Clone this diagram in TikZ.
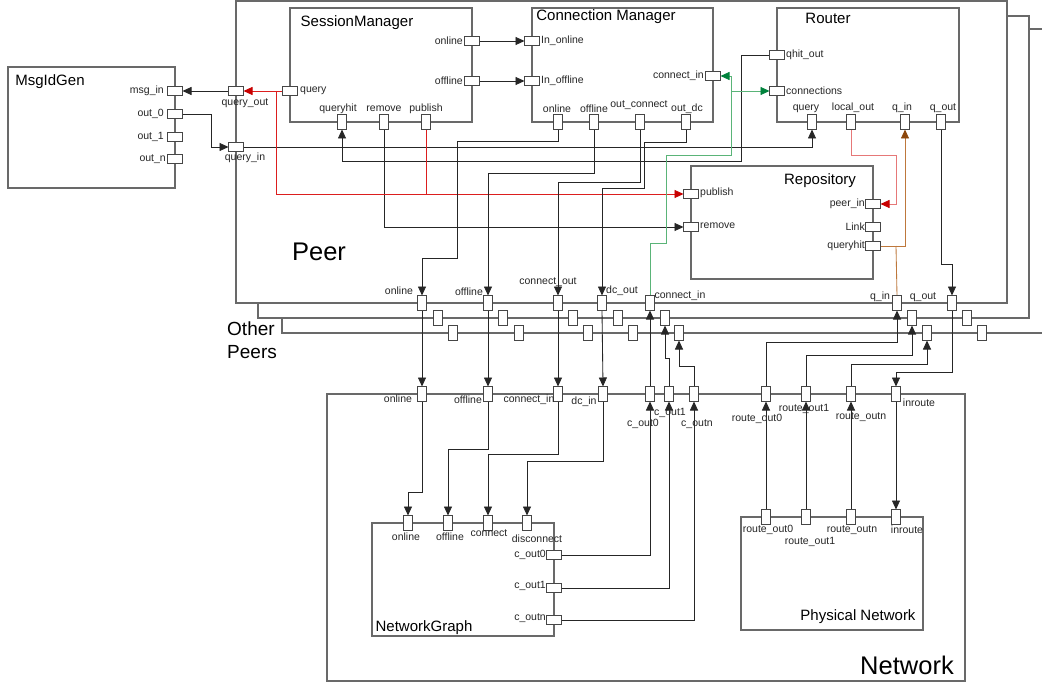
\documentclass[tikz,border=0pt]{standalone}
\usepackage{fontspec}
\setmainfont{Liberation Sans}
\usetikzlibrary{arrows.meta}
\definecolor{boxc}{RGB}{105,105,105}
\definecolor{portc}{RGB}{70,70,70}
\definecolor{redl}{RGB}{220,30,30}
\definecolor{redh}{RGB}{200,0,0}
\definecolor{pinkl}{RGB}{230,120,120}
\definecolor{greenl}{RGB}{90,180,120}
\definecolor{greenh}{RGB}{0,130,60}
\definecolor{brownl}{RGB}{190,120,60}
\definecolor{brownh}{RGB}{140,70,10}
\begin{document}
\begin{tikzpicture}[x=1pt,y=-1pt,
  blk/.style={draw=boxc,line width=1.2pt,fill=white,inner sep=0pt,outer sep=0pt,anchor=north west},
  hp/.style={draw=portc,fill=white,line width=0.9pt,minimum width=15pt,minimum height=9pt,inner sep=0pt,outer sep=0pt},
  vp/.style={draw=portc,fill=white,line width=0.9pt,minimum width=9pt,minimum height=15pt,inner sep=0pt,outer sep=0pt},
  lbl/.style={font=\fontsize{10.5}{12}\selectfont,inner sep=0pt,text=black!85},
  ttl/.style={font=\fontsize{15}{18}\selectfont,inner sep=0pt},
  big/.style={font=\fontsize{25.5}{30}\selectfont,inner sep=0pt},
  con/.style={draw=black!85,line width=0.85pt},
  tip/.style={-{Triangle[length=9pt,width=8pt,#1]}},
  arr/.style={con,tip={}},
  redarr/.style={draw=redl,line width=0.85pt,tip={color=redh}},
  pinkarr/.style={draw=pinkl,line width=0.85pt,tip={color=redh}},
  grnarr/.style={draw=greenl,line width=0.85pt,tip={color=greenh}},
  brnarr/.style={draw=brownl,line width=0.85pt,tip={color=brownh}},
]
\clip (0,0) rectangle (1042,682);
\fill[white] (0,0) rectangle (1042,682);

% ---------- boxes ----------
\node[blk,minimum width=167pt,minimum height=121pt] (msg) at (8,67) {};
\node[blk,minimum width=800pt,minimum height=304pt] (box3) at (282,29) {};
\node[blk,minimum width=771pt,minimum height=302pt] (box2) at (258,16) {};
\node[blk,minimum width=771pt,minimum height=302pt] (peer) at (236,1) {};
\node[blk,minimum width=182pt,minimum height=114pt] (sm) at (290,8) {};
\node[blk,minimum width=181pt,minimum height=114pt] (cm) at (532,8) {};
\node[blk,minimum width=182pt,minimum height=114pt] (rt) at (777,8) {};
\node[blk,minimum width=182pt,minimum height=113pt] (repo) at (691,166) {};
\node[blk,minimum width=638pt,minimum height=287pt] (net) at (327,394) {};
\node[blk,minimum width=182pt,minimum height=113pt] (ng) at (372,523) {};
\node[blk,minimum width=182pt,minimum height=113pt] (phy) at (741,517) {};

% ---------- titles ----------
\node[ttl] (tmsg) at (50,82) {MsgIdGen};
\node[ttl] (tsm) at (357,23) {SessionManager};
\node[ttl] (tcm) at (606,17) {Connection Manager};
\node[ttl] (trt) at (828,18) {Router};
\node[ttl] (trepo) at (820,181) {Repository};
\node[ttl] (tng) at (424,628) {NetworkGraph};
\node[ttl] (tphy) at (858,617) {Physical Network};
\node[big] (tpeer) at (319,252) {Peer};
\node[big] (tnet) at (907,665) {Network};
\node[font=\fontsize{19}{22}\selectfont,inner sep=0pt,anchor=west] (tother) at (227,329) {Other};
\node[font=\fontsize{19}{22}\selectfont,inner sep=0pt,anchor=west] (tpeers) at (227,352) {Peers};

\coordinate (c276) at (276,91);

% ---------- ports ----------
\node[hp] (msgin) at (175,91) {};
\node[hp] (out0) at (175,114) {};
\node[hp] (out1) at (175,137) {};
\node[hp] (outn) at (175,159) {};
\node[hp] (pqo) at (236,91) {};
\node[hp] (pqi) at (236,147) {};
\node[hp] (smq) at (290,91) {};
\node[hp] (smon) at (472,41) {};
\node[hp] (smoff) at (472,81) {};
\node[vp] (smqh) at (342,122) {};
\node[vp] (smrm) at (384,122) {};
\node[vp] (smpb) at (426,122) {};
\node[hp] (cmlon) at (532,41) {};
\node[hp] (cmloff) at (532,81) {};
\node[hp] (cmcin) at (713,76) {};
\node[vp] (cmon) at (558,122) {};
\node[vp] (cmoff) at (594,122) {};
\node[vp] (cmoc) at (640,122) {};
\node[vp] (cmdc) at (686,122) {};
\node[hp] (rqh) at (777,55) {};
\node[hp] (rcn) at (777,91) {};
\node[vp] (rq) at (812,122) {};
\node[vp] (rlo) at (851,122) {};
\node[vp] (rqin) at (905,122) {};
\node[vp] (rqout) at (941,122) {};
\node[hp] (rppub) at (691,194) {};
\node[hp] (rprm) at (691,227) {};
\node[hp] (rppi) at (873,204) {};
\node[hp] (rplk) at (873,227) {};
\node[hp] (rpqh) at (873,246) {};
\node[vp] (pon) at (422,303) {};
\node[vp] (poff) at (488,303) {};
\node[vp] (pco) at (558,303) {};
\node[vp] (pdc) at (602,303) {};
\node[vp] (pci) at (650,303) {};
\node[vp] (pqin) at (897,303) {};
\node[vp] (pqout) at (952,303) {};
\node[vp] (b2a) at (438,318) {};
\node[vp] (b2b) at (503,318) {};
\node[vp] (b2c) at (573,318) {};
\node[vp] (b2d) at (618,318) {};
\node[vp] (b2ci) at (665,318) {};
\node[vp] (b2qi) at (912,318) {};
\node[vp] (b2qo) at (967,318) {};
\node[vp] (b3a) at (453,333) {};
\node[vp] (b3b) at (519,333) {};
\node[vp] (b3c) at (588,333) {};
\node[vp] (b3d) at (633,333) {};
\node[vp] (b3ci) at (679,333) {};
\node[vp] (b3qi) at (927,333) {};
\node[vp] (b3qo) at (982,333) {};
\node[vp] (non) at (422,394) {};
\node[vp] (noff) at (488,394) {};
\node[vp] (ncin) at (558,394) {};
\node[vp] (ndc) at (603,394) {};
\node[vp] (nc0) at (650,394) {};
\node[vp] (nc1) at (669,394) {};
\node[vp] (ncn) at (694,394) {};
\node[vp] (nr0) at (766,394) {};
\node[vp] (nr1) at (806,394) {};
\node[vp] (nrn) at (851,394) {};
\node[vp] (nin) at (896,394) {};
\node[vp] (ngon) at (408,523) {};
\node[vp] (ngoff) at (448,523) {};
\node[vp] (ngcon) at (488,523) {};
\node[vp] (ngdc) at (527,523) {};
\node[hp] (ngc0) at (554,555) {};
\node[hp] (ngc1) at (554,588) {};
\node[hp] (ngcn) at (554,620) {};
\node[vp] (phr0) at (766,517) {};
\node[vp] (phr1) at (806,517) {};
\node[vp] (phrn) at (851,517) {};
\node[vp] (phin) at (896,517) {};

% ---------- connectors ----------
\draw[arr] (pqo.west) -- (msgin.east);
\draw[arr] (out0.east) -- (211,114) -- (211,147) -- (pqi.west);
\draw[arr] (pqi.east) -| (rq.south);
\draw[arr] (rqh.west) -- (741,55) -- (741,161) -| (smqh.south);
\draw[arr] (smrm.south) |- (rprm.west);
\draw[arr] (smon.east) -- (cmlon.west);
\draw[arr] (smoff.east) -- (cmloff.west);
\draw[redarr] (smq.west) -- (pqo.east);
\draw[draw=redl,line width=0.85pt] (smpb.south) -- (426,194);
\draw[redarr] (c276) -- (276,194) -- (rppub.west);
\draw[pinkarr] (rlo.south) -- (851,155) -- (896,155) |- (rppi.east);
\draw[brnarr] (rpqh.east) -| (rqin.south);
\draw[draw=brownl,line width=0.85pt] (896,246) -- (pqin.north);
\draw[arr] (rqout.south) -- (941,264) -| (pqout.north);
\draw[grnarr] (pci.north) -- (650,243) -- (666,243) -- (666,155) -- (731,155) -- (731,76) -- (cmcin.east);
\draw[grnarr] (731,91) -- (rcn.west);
\draw[arr] (cmon.south) -- (558,141) -- (457,141) -- (457,258) -| (pon.north);
\draw[arr] (cmoff.south) -- (594,173) -| (poff.north);
\draw[arr] (cmoc.south) -- (640,182) -| (pco.north);
\draw[arr] (cmdc.south) -- (686,142) -- (644,142) -- (644,188) -| (pdc.north);
\draw[arr] (pon.south) -- (non.north);
\draw[arr] (poff.south) -- (noff.north);
\draw[arr] (pco.south) -- (ncin.north);
\draw[arr] (pdc.south) -- (ndc.north);
\draw[arr] (nc0.north) -- (pci.south);
\draw[arr] (nc1.north) -- (669,358) -| (b2ci.south);
\draw[arr] (ncn.north) -- (694,366) -| (b3ci.south);
\draw[arr] (nr0.north) -- (766,342) -| (pqin.south);
\draw[arr] (nr1.north) -- (806,355) -| (b2qi.south);
\draw[arr] (nrn.north) -- (851,364) -| (b3qi.south);
\draw[arr] (pqout.south) -- (952,372) -| (nin.north);
\draw[arr] (non.south) -- (422,492) -| (ngon.north);
\draw[arr] (noff.south) -- (488,449) -| (ngoff.north);
\draw[arr] (ncin.south) -- (558,454) -| (ngcon.north);
\draw[arr] (ndc.south) -- (603,461) -| (ngdc.north);
\draw[arr] (ngc0.east) -| (nc0.south);
\draw[arr] (ngc1.east) -| (nc1.south);
\draw[arr] (ngcn.east) -| (ncn.south);
\draw[arr] (phr0.north) -- (nr0.south);
\draw[arr] (phr1.north) -- (nr1.south);
\draw[arr] (phrn.north) -- (nrn.south);
\draw[arr] (nin.south) -- (phin.north);

% redraw ports on top of connectors
\foreach \p in {msgin,out0,out1,outn,pqo,pqi,smq,smon,smoff,cmlon,cmloff,cmcin,rqh,rcn,rppub,rprm,rppi,rplk,rpqh,ngc0,ngc1,ngcn,smqh,smrm,smpb,cmon,cmoff,cmoc,cmdc,rq,rlo,rqin,rqout,pon,poff,pco,pdc,pci,pqin,pqout,b2a,b2b,b2c,b2d,b2ci,b2qi,b2qo,b3a,b3b,b3c,b3d,b3ci,b3qi,b3qo,non,noff,ncin,ndc,nc0,nc1,ncn,nr0,nr1,nrn,nin,ngon,ngoff,ngcon,ngdc,phr0,phr1,phrn,phin}
  \draw[draw=portc,fill=white,line width=0.9pt] (\p.south west) rectangle (\p.north east);

% ---------- labels ----------
\node[lbl,anchor=east] (l1) at (164,91) {msg\_in};
\node[lbl,anchor=east] (l2) at (164,114) {out\_0};
\node[lbl,anchor=east] (l3) at (164,137) {out\_1};
\node[lbl,anchor=east] (l4) at (166,159) {out\_n};
\node[lbl] (l5) at (245,103) {query\_out};
\node[lbl] (l6) at (245,158) {query\_in};
\node[lbl,anchor=west] (l7) at (300,91) {query};
\node[lbl,anchor=east] (l8) at (463,41) {online};
\node[lbl,anchor=east] (l9) at (463,81) {offline};
\node[lbl] (l10) at (338,109) {queryhit};
\node[lbl] (l11) at (384,109) {remove};
\node[lbl] (l12) at (426,109) {publish};
\node[lbl,anchor=west] (l13) at (541,41) {In\_online};
\node[lbl,anchor=west] (l14) at (541,81) {In\_offline};
\node[lbl,anchor=east] (l15) at (704,76) {connect\_in};
\node[lbl] (l16) at (557,109) {online};
\node[lbl] (l17) at (594,109) {offline};
\node[lbl] (l18) at (639,105) {out\_connect};
\node[lbl] (l19) at (687,109) {out\_dc};
\node[lbl,anchor=west] (l20) at (786,55) {qhit\_out};
\node[lbl,anchor=west] (l21) at (786,91) {connections};
\node[lbl] (l22) at (806,109) {query};
\node[lbl] (l23) at (853,108) {local\_out};
\node[lbl] (l24) at (902,108) {q\_in};
\node[lbl] (l25) at (943,108) {q\_out};
\node[lbl,anchor=west] (l26) at (700,193) {publish};
\node[lbl,anchor=west] (l27) at (700,226) {remove};
\node[lbl,anchor=east] (l28) at (865,204) {peer\_in};
\node[lbl,anchor=east] (l29) at (865,227) {Link};
\node[lbl,anchor=east] (l30) at (865,246) {queryhit};
\node[lbl] (l31) at (399,291) {online};
\node[lbl] (l32) at (469,292) {offline};
\node[lbl] (l33) at (548,282) {connect\_out};
\node[lbl] (l34) at (622,291) {dc\_out};
\node[lbl] (l35) at (680,296) {connect\_in};
\node[lbl] (l36) at (880,297) {q\_in};
\node[lbl] (l37) at (923,297) {q\_out};
\node[lbl] (l38) at (398,399) {online};
\node[lbl] (l39) at (468,400) {offline};
\node[lbl] (l40) at (529,400) {connect\_in};
\node[lbl] (l41) at (584,402) {dc\_in};
\node[lbl] (l42) at (643,424) {c\_out0};
\node[lbl] (l43) at (670,413) {c\_out1};
\node[lbl] (l44) at (697,424) {c\_outn};
\node[lbl] (l45) at (757,419) {route\_out0};
\node[lbl] (l46) at (804,409) {route\_out1};
\node[lbl] (l47) at (861,417) {route\_outn};
\node[lbl] (l48) at (919,403) {inroute};
\node[lbl] (l49) at (406,537) {online};
\node[lbl] (l50) at (450,537) {offline};
\node[lbl] (l51) at (489,533) {connect};
\node[lbl] (l52) at (537,539) {disconnect};
\node[lbl,anchor=east] (l53) at (546,555) {c\_out0};
\node[lbl,anchor=east] (l54) at (546,586) {c\_out1};
\node[lbl,anchor=east] (l55) at (546,618) {c\_outn};
\node[lbl] (l56) at (768,530) {route\_out0};
\node[lbl] (l57) at (810,542) {route\_out1};
\node[lbl] (l58) at (852,530) {route\_outn};
\node[lbl] (l59) at (907,530) {inroute};
\end{tikzpicture}
\end{document}
